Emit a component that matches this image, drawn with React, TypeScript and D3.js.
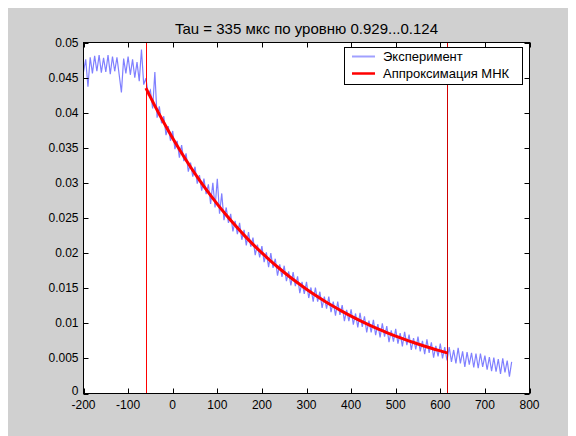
import React, { useEffect, useRef } from "react";
import * as d3 from "d3";

const W = 568;
const H = 428;

const titleText = "Tau = 335 мкс по уровню 0.929...0.124";
const xTicks = [-200, -100, 0, 100, 200, 300, 400, 500, 600, 700, 800];
const yTicks = [0, 0.005, 0.01, 0.015, 0.02, 0.025, 0.03, 0.035, 0.04, 0.045, 0.05];
const yTickLabels = ["0", "0.005", "0.01", "0.015", "0.02", "0.025", "0.03", "0.035", "0.04", "0.045", "0.05"];

// experiment samples, x from -200 step 5
const expStart = -200;
const expStep = 5;
const expValues = [
  0.0458, 0.0476, 0.0437, 0.0479, 0.0456, 0.0481, 0.0459, 0.0482, 0.0457, 0.0478,
  0.0458, 0.0482, 0.0455, 0.0480, 0.0459, 0.0479, 0.0454, 0.0429, 0.0477, 0.0456,
  0.0480, 0.0454, 0.0476, 0.0450, 0.0472, 0.0445, 0.0490, 0.0440, 0.0449, 0.0426,
  0.0432, 0.0406, 0.0458, 0.0393, 0.0409, 0.0385, 0.0395, 0.0368, 0.0381, 0.0360,
  0.0374, 0.0348, 0.0360, 0.0336, 0.0354, 0.0331, 0.0342, 0.0316, 0.0329, 0.0309,
  0.0323, 0.0299, 0.0311, 0.0289, 0.0306, 0.0284, 0.0298, 0.0270, 0.0300, 0.0265,
  0.0306, 0.0256, 0.0285, 0.0247, 0.0265, 0.0243, 0.0256, 0.0231, 0.0246, 0.0227,
  0.0243, 0.0219, 0.0233, 0.0211, 0.0230, 0.0209, 0.0222, 0.0197, 0.0212, 0.0194,
  0.0210, 0.0187, 0.0201, 0.0180, 0.0200, 0.0179, 0.0192, 0.0168, 0.0184, 0.0166,
  0.0182, 0.0160, 0.0174, 0.0154, 0.0173, 0.0153, 0.0167, 0.0143, 0.0159, 0.0142,
  0.0159, 0.0136, 0.0151, 0.0131, 0.0151, 0.0131, 0.0145, 0.0122, 0.0138, 0.0121,
  0.0138, 0.0116, 0.0131, 0.0111, 0.0131, 0.0112, 0.0126, 0.0103, 0.0119, 0.0103,
  0.0120, 0.0098, 0.0114, 0.0094, 0.0115, 0.0095, 0.0110, 0.0087, 0.0104, 0.0087,
  0.0105, 0.0083, 0.0099, 0.0080, 0.0100, 0.0081, 0.0096, 0.0073, 0.0090, 0.0074,
  0.0092, 0.0071, 0.0086, 0.0067, 0.0088, 0.0069, 0.0084, 0.0062, 0.0079, 0.0063,
  0.0081, 0.0060, 0.0075, 0.0056, 0.0077, 0.0058, 0.0073, 0.0051, 0.0068, 0.0053,
  0.0071, 0.0050, 0.0066, 0.0047,
  0.0066, 0.0045, 0.0062, 0.0043, 0.0065, 0.0043, 0.0060, 0.0038, 0.0059, 0.0041,
  0.0058, 0.0037, 0.0057, 0.0036, 0.0057, 0.0038, 0.0054, 0.0034, 0.0052, 0.0032,
  0.0051, 0.0031, 0.0049, 0.0028, 0.0050, 0.0030, 0.0047, 0.0024, 0.0045,
];

// least squares fit
const fitX = [-60, -40, -20, 0, 20, 40, 60, 80, 100, 120, 140, 160, 180, 200, 220, 240, 260, 280, 300, 320, 340, 360, 380, 400, 420, 440, 460, 480, 500, 520, 540, 560, 580, 600, 616];
const fitY = [
  0.0435, 0.04098, 0.03861, 0.03637, 0.03426, 0.03227, 0.0304, 0.02864, 0.02698, 0.02542,
  0.02395, 0.02256, 0.02125, 0.02002, 0.01886, 0.01777, 0.01674, 0.01577, 0.01485, 0.01399,
  0.01318, 0.01242, 0.0117, 0.01102, 0.01038, 0.00978, 0.00921, 0.00868, 0.00817, 0.0077,
  0.00726, 0.00684, 0.00644, 0.00607, 0.00578,
];

const markerX = [-60, 616];
const legendLabels = ["Эксперимент", "Аппроксимация МНК"];
const legendColors = ["#a0a0ff", "#ff0000"];

const expColor = "#8080ff";
const font = "'Liberation Sans', Arial, sans-serif";

export default function App() {
  const ref = useRef<SVGSVGElement>(null);

  useEffect(() => {
    document.body.style.overflow = "hidden";
    const svg = d3.select(ref.current);
    svg.selectAll("*").remove();

    const left = 75.5, right = 521.5, top = 34.5, bottom = 385.5;
    const x = d3.scaleLinear().domain([-200, 800]).range([left, right]);
    const y = d3.scaleLinear().domain([0, 0.05]).range([bottom, top]);

    svg.append("rect").attr("width", W).attr("height", H).attr("fill", "#d0d0d0");
    svg.append("rect").attr("x", left).attr("y", top).attr("width", right - left).attr("height", bottom - top).attr("fill", "#fff");

    svg.append("defs").append("clipPath").attr("id", "plotclip")
      .append("rect").attr("x", left).attr("y", top).attr("width", right - left).attr("height", bottom - top);

    const plot = svg.append("g").attr("clip-path", "url(#plotclip)");

    const expData = expValues.map((v, i) => [expStart + i * expStep, v] as [number, number]);
    const line = d3.line<[number, number]>().x(d => x(d[0])).y(d => y(d[1]));

    plot.append("path").datum(expData).attr("d", line).attr("fill", "none")
      .attr("stroke", expColor).attr("stroke-width", 1.2).attr("stroke-linejoin", "miter");

    const fitData = fitX.map((v, i) => [v, fitY[i]] as [number, number]);
    const fitLine = d3.line<[number, number]>().x(d => x(d[0])).y(d => y(d[1])).curve(d3.curveMonotoneX);
    plot.append("path").datum(fitData).attr("d", fitLine).attr("fill", "none")
      .attr("stroke", "#ff0000").attr("stroke-width", 3);

    plot.selectAll(".marker").data(markerX).join("line").attr("class", "marker")
      .attr("x1", d => Math.round(x(d)) + 0.5).attr("x2", d => Math.round(x(d)) + 0.5)
      .attr("y1", top).attr("y2", bottom)
      .attr("stroke", (d, i) => (i === 0 ? "#ff0000" : "#d00000")).attr("stroke-width", 1);

    // axes box and inward ticks
    const axes = svg.append("g").attr("stroke", "#000").attr("stroke-width", 1);
    axes.append("rect").attr("x", left).attr("y", top).attr("width", right - left).attr("height", bottom - top).attr("fill", "none");
    const tl = 5;
    xTicks.forEach(t => {
      const px = Math.round(x(t)) + 0.5;
      axes.append("line").attr("x1", px).attr("x2", px).attr("y1", bottom).attr("y2", bottom - tl);
      axes.append("line").attr("x1", px).attr("x2", px).attr("y1", top).attr("y2", top + tl);
    });
    yTicks.forEach(t => {
      const py = Math.round(y(t)) + 0.5;
      axes.append("line").attr("x1", left).attr("x2", left + tl).attr("y1", py).attr("y2", py);
      axes.append("line").attr("x1", right).attr("x2", right - tl).attr("y1", py).attr("y2", py);
    });

    svg.selectAll(".xlab").data(xTicks).join("text").attr("class", "xlab")
      .attr("x", d => x(d)).attr("y", bottom + 15).attr("text-anchor", "middle")
      .attr("font-family", font).attr("font-size", 12).attr("fill", "#000").text(d => String(d));

    svg.selectAll(".ylab").data(yTicks).join("text").attr("class", "ylab")
      .attr("x", left - 5).attr("y", (d, i) => y(d) + (i === 0 ? 1.5 : 4)).attr("text-anchor", "end")
      .attr("font-family", font).attr("font-size", 12).attr("fill", "#000").text((d, i) => yTickLabels[i]);

    svg.append("text").attr("x", (left + right) / 2).attr("y", 26).attr("text-anchor", "middle")
      .attr("font-family", font).attr("font-size", 15).attr("fill", "#000").text(titleText);

    // legend
    const lg = svg.append("g");
    lg.append("rect").attr("x", 336.5).attr("y", 39.5).attr("width", 178).attr("height", 37)
      .attr("fill", "#fff").attr("stroke", "#000");
    legendLabels.forEach((lab, i) => {
      const ly = 48.5 + i * 17;
      lg.append("line").attr("x1", 344).attr("x2", 367).attr("y1", ly).attr("y2", ly)
        .attr("stroke", legendColors[i]).attr("stroke-width", i === 0 ? 2 : 2.5);
      lg.append("text").attr("x", 375).attr("y", ly + 4.5).attr("font-family", font)
        .attr("font-size", 13).attr("fill", "#000").text(lab);
    });
  }, []);

  return <svg ref={ref} width={W} height={H} style={{ display: "block" }} />;
}
